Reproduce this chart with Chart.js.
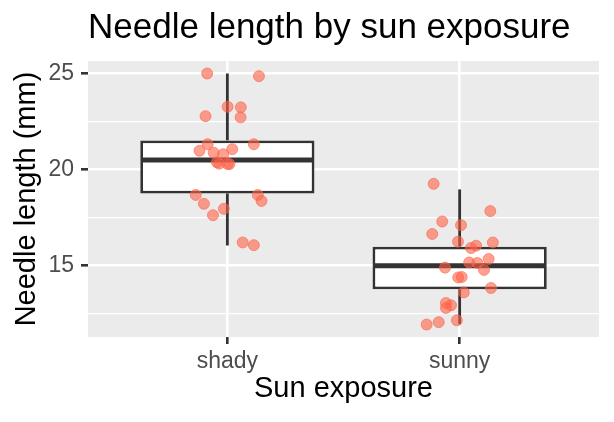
<!DOCTYPE html>
<html>
<head>
<meta charset="utf-8">
<script src="https://cdn.jsdelivr.net/npm/chart.js@4.4.1/dist/chart.umd.min.js"></script>
<style>
  html, body { margin: 0; padding: 0; background: #fff; }
  #wrap { width: 614px; height: 422px; }
</style>
</head>
<body>
<div id="wrap"><canvas id="grafik"></canvas></div>
<script>
const categories = ["shady", "sunny"];
const yTicks = [15, 20, 25];
const yMinorTicks = [12.5, 17.5, 22.5];

// box stats per category
const boxQ1 = [18.76, 13.77];
const boxQ3 = [21.52, 15.99];
const medians = [20.5, 15.0];
const whiskerLow = [16.05, 11.95];
const whiskerHigh = [25.0, 18.97];

// jittered points (x = category position + jitter)
const shadyX = [0.913, 1.136, 1.001, 1.058, 0.906, 1.057, 0.915, 1.114, 0.880, 1.021, 0.941, 0.982,
  0.955, 0.965, 1.001, 1.009, 0.864, 1.131, 0.899, 1.147, 0.985, 0.938, 1.066, 1.114];
const shadyY = [25.0, 24.86, 23.27, 23.24, 22.78, 22.72, 21.32, 21.32, 20.98, 21.06, 20.88, 20.80,
  20.38, 20.31, 20.29, 20.29, 18.68, 18.68, 18.22, 18.37, 17.96, 17.63, 16.21, 16.07];
const sunnyX = [1.888, 2.132, 1.925, 2.006, 1.882, 1.993, 2.143, 2.049, 2.071, 2.125, 2.041, 2.076,
  1.937, 2.105, 1.994, 2.009, 2.135, 2.018, 1.941, 1.963, 1.941, 1.988, 1.910, 1.858];
const sunnyY = [19.26, 17.84, 17.30, 17.11, 16.65, 16.25, 16.21, 15.92, 16.04, 15.35, 15.17, 15.14,
  14.90, 14.78, 14.39, 14.41, 13.84, 13.61, 13.06, 12.94, 12.80, 12.16, 12.06, 11.94];

const positions = categories.map((c, i) => i + 1);
const points = shadyX.map((x, i) => ({ x: x, y: shadyY[i] }))
  .concat(sunnyX.map((x, i) => ({ x: x, y: sunnyY[i] })));

const panelBg = {
  id: "panelBg",
  beforeDraw(chart) {
    const { ctx, chartArea: a } = chart;
    ctx.save();
    ctx.fillStyle = "#EBEBEB";
    ctx.fillRect(a.left, a.top, a.right - a.left, a.bottom - a.top);
    ctx.restore();
  }
};

// median line drawn right after the boxes, under the points
const medianLine = {
  id: "medianLine",
  afterDatasetDraw(chart, args) {
    if (args.index !== 0) return;
    const { ctx, scales } = chart;
    const meta = chart.getDatasetMeta(0);
    ctx.save();
    ctx.strokeStyle = "#333333";
    ctx.lineWidth = 5;
    meta.data.forEach((bar, i) => {
      const y = scales.y.getPixelForValue(medians[i]);
      const half = bar.width / 2;
      ctx.beginPath();
      ctx.moveTo(bar.x - half + 1, y);
      ctx.lineTo(bar.x + half - 1, y);
      ctx.stroke();
    });
    ctx.restore();
  }
};

const ctx = document.getElementById("grafik").getContext("2d");
new Chart(ctx, {
  type: "bar",
  data: {
    datasets: [
      {
        type: "bar",
        label: "box",
        data: positions.map((p, i) => ({ x: p, y: [boxQ1[i], boxQ3[i]] })),
        backgroundColor: "#FFFFFF",
        borderColor: "#333333",
        borderWidth: 2.8,
        borderSkipped: false,
        grouped: false,
        categoryPercentage: 1,
        barPercentage: 0.75,
        order: 1
      },
      {
        type: "bar",
        label: "whisker low",
        data: positions.map((p, i) => ({ x: p, y: [whiskerLow[i], boxQ1[i]] })),
        backgroundColor: "#333333",
        borderWidth: 0,
        grouped: false,
        maxBarThickness: 2.8,
        order: 2
      },
      {
        type: "bar",
        label: "whisker high",
        data: positions.map((p, i) => ({ x: p, y: [boxQ3[i], whiskerHigh[i]] })),
        backgroundColor: "#333333",
        borderWidth: 0,
        grouped: false,
        maxBarThickness: 2.8,
        order: 2
      },
      {
        type: "scatter",
        label: "needles",
        data: points,
        backgroundColor: "rgba(255, 99, 71, 0.6)",
        borderColor: "rgba(255, 99, 71, 0.6)",
        borderWidth: 1,
        pointRadius: 5.5,
        order: 0
      }
    ]
  },
  options: {
    responsive: true,
    maintainAspectRatio: false,
    animation: false,
    layout: { padding: { left: 10, right: 15, top: 0, bottom: 16 } },
    plugins: {
      legend: { display: false },
      tooltip: { enabled: false },
      title: {
        display: true,
        text: "Needle length by sun exposure",
        align: "start",
        fullSize: false,
        color: "#000000",
        font: { family: "'Liberation Sans', Arial, sans-serif", size: 35, weight: "normal" },
        padding: { top: 7, bottom: 12 }
      }
    },
    scales: {
      x: {
        type: "linear",
        min: 0.4,
        max: 2.6,
        offset: false,
        afterBuildTicks: s => { s.ticks = positions.map(v => ({ value: v })); },
        afterFit: s => { s.height = 69; },
        ticks: {
          callback: v => categories[v - 1],
          color: "#4D4D4D",
          font: { family: "'Liberation Sans', Arial, sans-serif", size: 23 },
          padding: 4
        },
        grid: {
          offset: false,
          color: "#FFFFFF",
          lineWidth: 2.6,
          tickColor: "#333333",
          tickWidth: 2.6,
          tickLength: 7
        },
        border: { display: false },
        title: {
          display: true,
          text: "Sun exposure",
          color: "#000000",
          font: { family: "'Liberation Sans', Arial, sans-serif", size: 29 },
          padding: { top: 0, bottom: 0 }
        }
      },
      y: {
        type: "linear",
        min: 11.29,
        max: 25.65,
        afterBuildTicks: s => { s.ticks = yTicks.map(v => ({ value: v })); },
        afterFit: s => { s.width = 78; },
        ticks: {
          color: "#4D4D4D",
          font: { family: "'Liberation Sans', Arial, sans-serif", size: 23 },
          padding: 7
        },
        grid: {
          color: "#FFFFFF",
          lineWidth: 2.6,
          tickColor: "#333333",
          tickWidth: 2.6,
          tickLength: 7
        },
        border: { display: false },
        title: {
          display: true,
          text: "Needle length (mm)",
          color: "#000000",
          font: { family: "'Liberation Sans', Arial, sans-serif", size: 29 },
          padding: { top: 0, bottom: 0 }
        }
      },
      yMinor: {
        type: "linear",
        position: "left",
        min: 11.29,
        max: 25.65,
        afterBuildTicks: s => { s.ticks = yMinorTicks.map(v => ({ value: v })); },
        afterFit: s => { s.width = 0; },
        ticks: { display: false },
        grid: { color: "#FFFFFF", lineWidth: 1.3, drawTicks: false },
        border: { display: false }
      }
    }
  },
  plugins: [panelBg, medianLine]
});
</script>
</body>
</html>
